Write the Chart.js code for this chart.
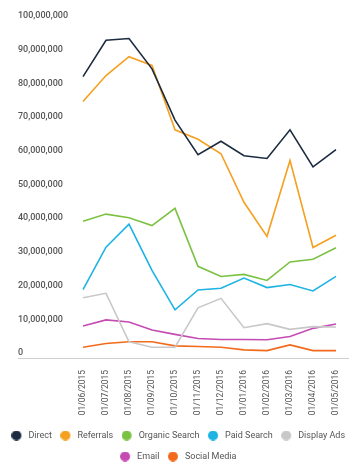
<!DOCTYPE html>
<html>
<head>
<meta charset="utf-8">
<script src="https://cdn.jsdelivr.net/npm/chart.js@4/dist/chart.umd.min.js"></script>
<style>
  html, body { margin: 0; padding: 0; background: #ffffff; }
  #wrap { width: 360px; height: 471px; position: relative; }
</style>
</head>
<body>
<div id="wrap"><canvas id="c" width="360" height="471"></canvas></div>
<script>
// ---- Data (values in units) ----
const categories = ["01/06/2015","01/07/2015","01/08/2015","01/09/2015","01/10/2015","01/11/2015","01/12/2015","01/01/2016","01/02/2016","01/03/2016","01/04/2016","01/05/2016"];
const direct        = [83.5, 94.3, 94.8, 85.8, 70.6, 60.3, 64.3, 60.0, 59.2, 67.7, 56.7, 61.8].map(v => v * 1e6);
const referrals     = [76.1, 83.8, 89.4, 86.8, 67.7, 64.9, 60.6, 46.2, 36.1, 58.6, 32.8, 36.4].map(v => v * 1e6);
const organicSearch = [40.6, 42.7, 41.6, 39.3, 44.4, 27.2, 24.2, 24.8, 23.0, 28.5, 29.3, 32.7].map(v => v * 1e6);
const paidSearch    = [20.3, 32.9, 39.7, 26.0, 14.3, 20.2, 20.7, 23.7, 20.9, 21.8, 19.9, 24.2].map(v => v * 1e6);
const displayAds    = [17.9, 19.2, 4.8, 3.2, 3.2, 14.9, 17.7, 9.0, 10.2, 8.5, 9.3, 9.2].map(v => v * 1e6);
const email         = [9.5, 11.3, 10.7, 8.3, 7.0, 5.8, 5.5, 5.5, 5.4, 6.4, 8.8, 10.1].map(v => v * 1e6);
const socialMedia   = [3.2, 4.3, 4.8, 4.8, 3.6, 3.4, 3.2, 2.4, 2.2, 3.9, 2.2, 2.2].map(v => v * 1e6);
const seriesNames   = ["Direct","Referrals","Organic Search","Paid Search","Display Ads","Email","Social Media"];
const yTicks        = [0, 10e6, 20e6, 30e6, 40e6, 50e6, 60e6, 70e6, 80e6, 90e6, 100e6];

const colors = ["#1c2b40","#f5a021","#7cc242","#1db3e2","#c8c8c8","#c54bb2","#f26b1d"];
const seriesData = [direct, referrals, organicSearch, paidSearch, displayAds, email, socialMedia];

// legend marker: circle offset left inside a wider transparent canvas
function marker(color) {
  const c = document.createElement('canvas');
  c.width = 16; c.height = 10;
  const g = c.getContext('2d');
  g.fillStyle = color;
  g.beginPath();
  g.arc(5, 5, 5, 0, Math.PI * 2);
  g.fill();
  return c;
}

const axisLine = {
  id: 'axisLine',
  beforeDatasetsDraw(chart) {
    const ctx = chart.ctx, a = chart.chartArea;
    const y = Math.round(chart.scales.y.getPixelForValue(0)) + 0.5;
    ctx.save();
    ctx.strokeStyle = '#d0d0d0';
    ctx.lineWidth = 1;
    ctx.beginPath();
    ctx.moveTo(a.left - 65, y);
    ctx.lineTo(a.right + 13, y);
    ctx.stroke();
    ctx.restore();
  }
};

const spacer = (pos, w, weight) => ({
  type: 'linear',
  position: pos,
  weight: weight,
  display: true,
  grid: { display: false },
  border: { display: false },
  ticks: { display: false },
  afterFit(s) { s.width = w; }
});

new Chart(document.getElementById('c'), {
  type: 'line',
  data: {
    labels: categories,
    datasets: seriesNames.map((n, i) => ({
      label: n,
      data: seriesData[i],
      borderColor: colors[i],
      backgroundColor: colors[i],
      borderWidth: 1.6,
      pointRadius: 0,
      pointHoverRadius: 0,
      tension: 0,
      fill: false,
      pointStyle: marker(colors[i])
    }))
  },
  options: {
    responsive: false,
    animation: false,
    devicePixelRatio: 1,
    layout: { padding: { left: 0, right: 0, top: 21, bottom: 0 } },
    plugins: {
      tooltip: { enabled: false },
      legend: {
        position: 'bottom',
        labels: {
          usePointStyle: true,
          boxWidth: 9,
          boxHeight: 9,
          padding: 12,
          color: '#555555',
          font: { family: 'Roboto', size: 9 }
        }
      }
    },
    scales: {
      x: {
        grid: { display: false },
        border: { display: false },
        afterFit(s) { s.height = 61; },
        ticks: {
          minRotation: 90,
          maxRotation: 90,
          autoSkip: false,
          padding: 4,
          color: '#555555',
          font: { family: 'Roboto', size: 8.5 }
        }
      },
      y: {
        min: 0,
        max: 100e6,
        weight: 0,
        grid: { display: false },
        border: { display: false },
        afterFit(s) { s.width = 65; },
        afterBuildTicks(s) { s.ticks = yTicks.map(v => ({ value: v })); },
        ticks: {
          crossAlign: 'far',
          labelOffset: -5,
          color: '#555555',
          font: { family: 'Roboto', size: 9, weight: '500' },
          callback: v => v.toLocaleString('en-US')
        }
      },
      padLeft: spacer('left', 18, 1),
      padRight: spacer('right', 24, 1)
    }
  },
  plugins: [axisLine]
});
</script>
</body>
</html>
